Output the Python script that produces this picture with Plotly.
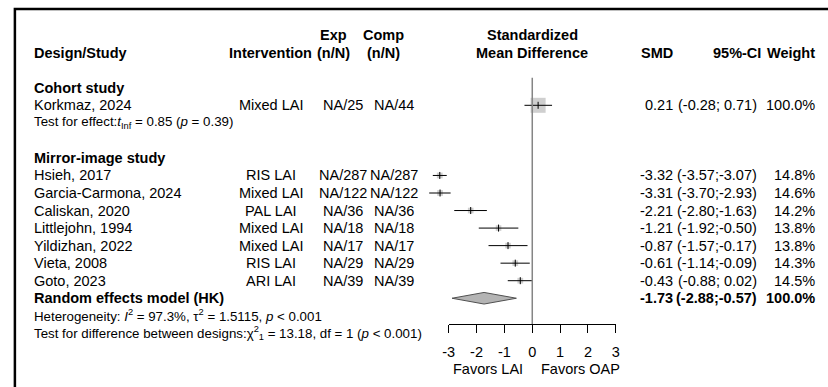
import plotly.graph_objects as go

# ---------------- data ----------------
studies = ["Korkmaz, 2024", "Hsieh, 2017", "Garcia-Carmona, 2024", "Caliskan, 2020",
           "Littlejohn, 1994", "Yildizhan, 2022", "Vieta, 2008", "Goto, 2023"]
interventions = ["Mixed LAI", "RIS LAI", "Mixed LAI", "PAL LAI", "Mixed LAI",
                 "Mixed LAI", "RIS LAI", "ARI LAI"]
exp_n = ["NA/25", "NA/287", "NA/122", "NA/36", "NA/18", "NA/17", "NA/29", "NA/39"]
comp_n = ["NA/44", "NA/287", "NA/122", "NA/36", "NA/18", "NA/17", "NA/29", "NA/39"]
smd = [0.21, -3.32, -3.31, -2.21, -1.21, -0.87, -0.61, -0.43]
ci_lo = [-0.28, -3.57, -3.70, -2.80, -1.92, -1.57, -1.14, -0.88]
ci_hi = [0.71, -3.07, -2.93, -1.63, -0.50, -0.17, -0.09, 0.02]
weights = [100.0, 14.8, 14.6, 14.2, 13.8, 13.8, 14.3, 14.5]
study_rows = [0, 4, 5, 6, 7, 8, 9, 10]

pooled_label = "Random effects model (HK)"
pooled_smd, pooled_lo, pooled_hi, pooled_w = -1.73, -2.88, -0.57, 100.0
pooled_row = 11

groups = ["Cohort study", "Mirror-image study"]
group_rows = [-1, 3]

tick_vals = [-3, -2, -1, 0, 1, 2, 3]
tick_labels = ["-3", "-2", "-1", "0", "1", "2", "3"]

# ---------------- layout geometry ----------------
W, H = 828, 387
ZERO_PX = 532.7          # pixel x of SMD = 0
PPU = 28.2               # pixels per SMD unit
ROW0_PX = 105.3          # pixel y of row 0
ROW_PX = 17.54           # pixels per row
AXIS_PX = 324.3          # pixel y of the x axis line

FONT = "Liberation Sans, Arial, sans-serif"
FS = 14.5
FS_SMALL = 13.3

def px(x):
    return x / W

fig = go.Figure()

# reference line at 0 (drawn on the visible axis x2)
fig.add_trace(go.Scatter(
    x=[0, 0], y=[-1.57, (AXIS_PX - ROW0_PX) / ROW_PX],
    xaxis="x2", yaxis="y", mode="lines",
    line=dict(color="#858585", width=1.5), hoverinfo="skip", showlegend=False))

# squares
fig.add_trace(go.Scatter(
    x=smd, y=study_rows, mode="markers",
    marker=dict(symbol="square", color="#bababa",
                size=[1.5 * (w ** 0.5) for w in weights], line=dict(width=0)),
    hoverinfo="skip", showlegend=False, cliponaxis=False))

# CI lines
ci_x, ci_y = [], []
for lo, hi, r in zip(ci_lo, ci_hi, study_rows):
    ci_x += [lo, hi, None]
    ci_y += [r, r, None]
fig.add_trace(go.Scatter(x=ci_x, y=ci_y, mode="lines",
                         line=dict(color="black", width=1),
                         hoverinfo="skip", showlegend=False))

# point estimate ticks
fig.add_trace(go.Scatter(
    x=smd, y=study_rows, mode="markers",
    marker=dict(symbol="line-ns", size=5, line=dict(color="black", width=1)),
    hoverinfo="skip", showlegend=False, cliponaxis=False))

# diamond
dh = 5.8 / ROW_PX
fig.add_trace(go.Scatter(
    x=[pooled_lo, pooled_smd, pooled_hi, pooled_smd, pooled_lo],
    y=[pooled_row, pooled_row - dh, pooled_row, pooled_row + dh, pooled_row],
    mode="lines", fill="toself", fillcolor="#b4b4b4",
    line=dict(color="#505050", width=1), hoverinfo="skip", showlegend=False))

# ---------------- text ----------------
ann = []

def add(text, xp, row, anchor="left", bold=False, size=FS, xshift=0):
    ann.append(dict(text=f"<b>{text}</b>" if bold else text,
                    x=px(xp), xref="paper", y=row, yref="y",
                    xanchor=anchor, yanchor="middle", showarrow=False,
                    xshift=xshift,
                    font=dict(family=FONT, size=size, color="black")))

STUDY_X = 26
INT_X = 268
EXP_X, EXP_HX = 341.5, 331
COMP_X, COMP_HX = 393, 382
SMD_X = 677
CI_X, CI_HX = 762, 766
W_X = 821

# headers
add("Design/Study", STUDY_X, -3, "left", True)
add("Intervention", INT_X, -3, "center", True)
add("Exp", EXP_HX, -4, "center", True)
add("(n/N)", EXP_HX, -3, "center", True)
add("Comp", COMP_HX, -4, "center", True)
add("(n/N)", COMP_HX, -3, "center", True)
add("Standardized", ZERO_PX, -4, "center", True)
add("Mean Difference", ZERO_PX, -3, "center", True)
add("SMD", SMD_X, -3, "right", True)
add("95%-CI", CI_HX, -3, "right", True)
add("Weight", W_X, -3, "right", True)

for g, r in zip(groups, group_rows):
    add(g, STUDY_X, r, "left", True)

def fmt_ci(lo, hi):
    return "(" + f"{lo:5.2f}" + ";" + f"{hi:5.2f}" + ")"

for s, iv, e, c, m, lo, hi, w, r in zip(studies, interventions, exp_n, comp_n,
                                         smd, ci_lo, ci_hi, weights, study_rows):
    add(s, STUDY_X, r, "left")
    add(iv, INT_X, r, "center")
    add(e, EXP_X, r, "center")
    add(c, COMP_X, r, "center")
    add(f"{m:.2f}", SMD_X, r, "right")
    add(fmt_ci(lo, hi), CI_X, r, "right")
    add(f"{w:.1f}%", W_X, r, "right")

add(pooled_label, STUDY_X, pooled_row, "left", True)
add(f"{pooled_smd:.2f}", SMD_X, pooled_row, "right", True)
add(fmt_ci(pooled_lo, pooled_hi), CI_X, pooled_row, "right", True)
add(f"{pooled_w:.1f}%", W_X, pooled_row, "right", True)

add("Test for effect:<i>t</i><sub>Inf</sub> = 0.85 (<i>p</i> = 0.39)",
    STUDY_X, 1, "left", size=FS_SMALL)
add("Heterogeneity: <i>I</i><sup>2</sup> = 97.3%, τ<sup>2</sup> = 1.5115, <i>p</i> &lt; 0.001",
    STUDY_X, 12, "left", size=FS_SMALL)
add("Test for difference between designs:χ<sup>2</sup><sub>1</sub> = 13.18, df = 1 (<i>p</i> &lt; 0.001)",
    STUDY_X, 13, "left", size=FS_SMALL)

fav_row = (368.5 - ROW0_PX) / ROW_PX
add("Favors LAI", ZERO_PX, fav_row, "right", xshift=-7)
add("Favors OAP", ZERO_PX, fav_row, "left", xshift=7)

# ---------------- axes ----------------
y_top = (0 - ROW0_PX) / ROW_PX
y_bot = (H - ROW0_PX) / ROW_PX

fig.update_layout(
    width=W, height=H,
    margin=dict(l=0, r=0, t=0, b=0),
    paper_bgcolor="white", plot_bgcolor="rgba(0,0,0,0)",
    showlegend=False,
    xaxis=dict(domain=[0, 1], range=[(0 - ZERO_PX) / PPU, (W - ZERO_PX) / PPU],
               visible=False, fixedrange=True),
    xaxis2=dict(domain=[px(ZERO_PX - 3 * PPU), px(ZERO_PX + 3 * PPU)],
                range=[-3, 3], anchor="free", position=1 - AXIS_PX / H,
                showline=True, linecolor="black", linewidth=1,
                ticks="outside", ticklen=8, tickwidth=1, tickcolor="black",
                tickvals=tick_vals, ticktext=tick_labels,
                tickfont=dict(family=FONT, size=FS, color="black"),
                ticklabelstandoff=6,
                showgrid=False, zeroline=False, fixedrange=True),
    yaxis=dict(domain=[0, 1], range=[y_bot, y_top], visible=False, fixedrange=True),
    annotations=ann,
    shapes=[dict(type="rect", xref="paper", yref="paper",
                 x0=px(9), x1=1.05, y0=-0.05, y1=1 - 9 / H,
                 line=dict(color="black", width=2.5))],
)

fig.write_html("out.html", config={"displayModeBar": False},
               post_script="document.body.style.margin='0';document.body.style.overflow='hidden';")
